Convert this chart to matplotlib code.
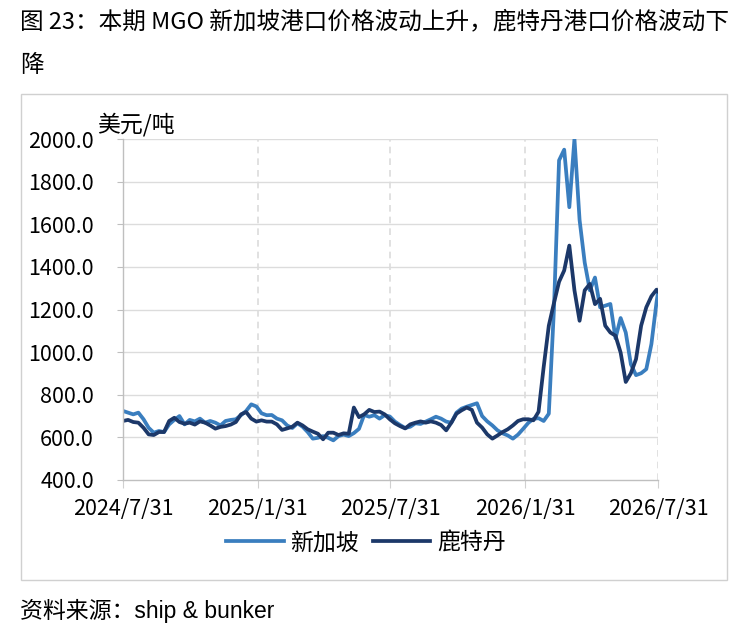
import matplotlib
matplotlib.use("Agg")
import matplotlib.pyplot as plt
from matplotlib.patches import Rectangle
import pandas as pd

plt.rcParams['font.family'] = ['Noto Sans CJK SC', 'DejaVu Sans']

# weekly MGO prices (USD/t), 2024-07-31 .. 2026-07-29, plus the last day
singapore = [724, 716, 708, 716, 685, 645, 622, 630, 625, 661,
             682, 700, 661, 682, 675, 688, 669, 677, 669, 656,
             677, 682, 685, 704, 724, 755, 745, 713, 704, 705,
             688, 680, 656, 644, 666, 650, 625, 594, 598, 606,
             598, 586, 606, 613, 606, 620, 640, 705, 697, 704,
             688, 704, 698, 674, 658, 644, 650, 666, 663, 674,
             685, 697, 688, 674, 669, 716, 735, 744, 752, 760,
             700, 675, 656, 633, 619, 609, 594, 613, 640, 668,
             687, 690, 677, 711, 1200, 1900, 1950, 1680, 2000, 1620,
             1420, 1290, 1350, 1210, 1218, 1226, 1065, 1160, 1092, 943,
             892, 901, 920, 1038, 1234, 1281]
rotterdam = [677, 682, 672, 669, 645, 614, 611, 625, 625, 677,
             692, 672, 664, 669, 660, 675, 669, 656, 641, 649,
             653, 660, 672, 708, 719, 688, 674, 680, 674, 674,
             661, 635, 642, 650, 669, 656, 638, 627, 617, 591,
             622, 622, 611, 619, 617, 740, 695, 708, 729, 719,
             721, 708, 685, 666, 653, 642, 661, 669, 675, 669,
             675, 669, 658, 633, 669, 711, 727, 740, 729, 669,
             646, 614, 594, 609, 625, 638, 656, 677, 685, 685,
             680, 720, 930, 1124, 1230, 1330, 1383, 1500, 1290, 1147,
             1290, 1320, 1225, 1250, 1124, 1092, 1077, 998, 860, 901,
             967, 1124, 1210, 1262, 1293, 1285]

dates = list(pd.date_range('2024-07-31', periods=105, freq='7D')) + [pd.Timestamp('2026-07-31')]

tick_dates = ['2024-07-31', '2025-01-31', '2025-07-31', '2026-01-31', '2026-07-31']
tick_labels = ['2024/7/31', '2025/1/31', '2025/7/31', '2026/1/31', '2026/7/31']
y_ticks = [400, 600, 800, 1000, 1200, 1400, 1600, 1800, 2000]

title_1 = '图 23：本期 MGO 新加坡港口价格波动上升，鹿特丹港口价格波动下'
title_2 = '降'
source = '资料来源：ship & bunker'

W, H = 755, 626
fig = plt.figure(figsize=(W / 100, H / 100), dpi=100)

# light frame round the chart
fig.add_artist(Rectangle((21 / W, 1 - 580 / H), 706 / W, 486 / H,
                         transform=fig.transFigure, fill=False,
                         edgecolor='#d0d0d0', lw=1.0))

fig.text(20 / W, 1 - 22 / H, title_1, fontsize=17, va='center', ha='left')
fig.text(20 / W, 1 - 65 / H, title_2, fontsize=17, va='center', ha='left')
fig.text(20 / W, 1 - 611 / H, source, fontsize=16.5, va='center', ha='left',
         family=['Liberation Sans', 'Noto Sans CJK SC'])

ax = fig.add_axes([123 / W, 1 - 480 / H, 535 / W, 341 / H])

ax.plot(dates, singapore, color='#3a7ebf', lw=2.7, label='新加坡', solid_joinstyle='round')
ax.plot(dates, rotterdam, color='#1c3869', lw=2.7, label='鹿特丹', solid_joinstyle='round')

ax.set_xlim(pd.Timestamp(tick_dates[0]), pd.Timestamp(tick_dates[-1]))
ax.set_ylim(400, 2000)
ax.set_yticks(y_ticks)
ax.set_yticklabels([f'{v:.1f}' for v in y_ticks])
ax.set_xticks([pd.Timestamp(d) for d in tick_dates])
ax.set_xticklabels(tick_labels)

for v in y_ticks[1:]:
    ax.axhline(v, color='#dcdcdc', lw=1.0, zorder=0)
for d in tick_dates[1:]:
    ax.axvline(pd.Timestamp(d), color='#dcdcdc', lw=1.2, ls=(0, (4, 3)), zorder=0)

for s in ['top', 'right']:
    ax.spines[s].set_visible(False)
for s in ['left', 'bottom']:
    ax.spines[s].set_color('#bfbfbf')
    ax.spines[s].set_linewidth(1.0)

# labels sit well away from the ticks, as in the original
ax.tick_params(axis='y', length=4, color='#bfbfbf', labelsize=15.5, pad=17, labelcolor='black')
ax.tick_params(axis='x', length=6, color='#d0d0d0', labelsize=15.5, pad=7, labelcolor='black')

ax.text(-0.049, 1.008, '美元/吨', transform=ax.transAxes, fontsize=16.5,
        ha='left', va='bottom')

ax.legend(loc='upper center', bbox_to_anchor=(0.454, -0.09), ncol=2, frameon=False,
          fontsize=16.5, handlelength=2.5, handletextpad=0.3, columnspacing=0.6)

fig.savefig('out.png', dpi=100)
